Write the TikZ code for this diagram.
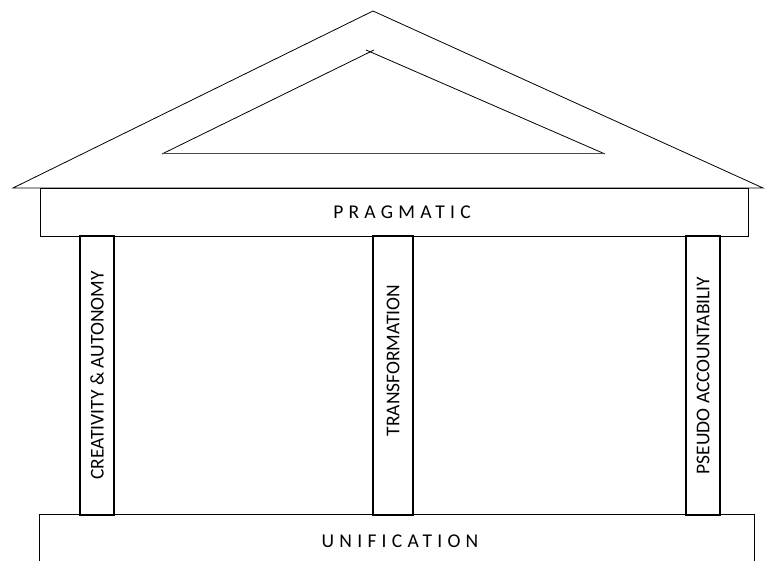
\documentclass[tikz,border=0pt]{standalone}
\usepackage{fontspec}
\setmainfont{Carlito}
\newfontfamily\spacedfont[LetterSpace=27]{Carlito}

\begin{document}
\begin{tikzpicture}[
  x=1pt, y=-1pt,
  beam/.style={inner sep=0pt, font=\spacedfont\fontsize{19.5}{22}\selectfont},
  pillar/.style={draw, line width=1.5pt, rotate=90, inner sep=0pt,
                 minimum width=279pt, font=\fontsize{19.5}{23}\selectfont},
  roof/.style={line width=0.8pt, line join=miter}
]
  \useasboundingbox (0,0) rectangle (765,561);

  % pediment
  \coordinate (apex) at (373,11);
  \coordinate (eaveL) at (13,188);
  \coordinate (eaveR) at (763,188);
  \draw[roof] (apex) -- (eaveL) -- (eaveR) -- cycle;

  \coordinate (tymL) at (162,154);
  \coordinate (tymR) at (605,154);
  \draw[roof] (tymL) -- (374,50);
  \draw[roof] (tymR) -- (366,50);
  \draw[line width=1pt, black!70] (tymL) -- (tymR);

  % entablature
  \node[beam, draw, line width=0.6pt, minimum width=708pt, minimum height=48pt]
    (pragmatic) at (394,212) {\hspace{16pt}PRAGMATIC};

  % columns
  \node[pillar, minimum height=34pt] (creativity) at (97,375.5) {CREATIVITY \& AUTONOMY};
  \node[pillar, minimum height=40pt] (transformation) at (393,375.5) {\hspace{30pt}TRANSFORMATION};
  \node[pillar, minimum height=34pt] (pseudo) at (703,375.5) {PSEUDO ACCOUNTABILIY};

  % stylobate
  \node[beam, minimum width=714pt, minimum height=52pt] (unification) at (397,541) {\hspace{6pt}UNIFICATION};
  \draw[line width=1.2pt] (unification.south west) |- (unification.north east)
    -- (unification.south east);
\end{tikzpicture}
\end{document}
